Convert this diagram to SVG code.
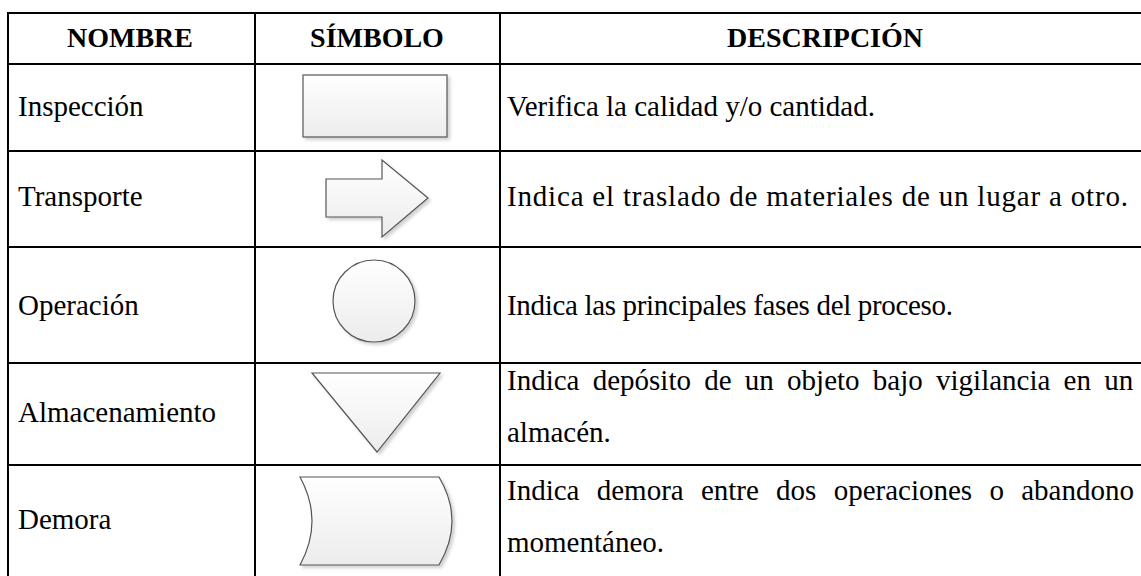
<svg xmlns="http://www.w3.org/2000/svg" width="1141" height="576" viewBox="0 0 1141 576">
<style>
.grid{stroke:#000;stroke-width:2;fill:none}
.hd{font-family:"Liberation Serif","Times New Roman",serif;font-size:28px;font-weight:bold;fill:#000;text-anchor:middle}
.tx{font-family:"Liberation Serif","Times New Roman",serif;font-size:29px;fill:#000}
.sym{fill:url(#g);stroke:#555;stroke-width:1.2;filter:url(#sh)}
</style>
<defs>
<linearGradient id="g" x1="0" y1="0" x2="0" y2="1">
<stop offset="0" stop-color="#ffffff"/>
<stop offset="1" stop-color="#ececec"/>
</linearGradient>
<filter id="sh" x="-10%" y="-10%" width="130%" height="130%">
<feDropShadow dx="2.5" dy="2.5" stdDeviation="1.5" flood-color="#000" flood-opacity="0.18"/>
</filter>
</defs>
<rect width="1141" height="576" fill="#fff"/>
<g id="table">
<line class="grid" x1="7" y1="13" x2="1141" y2="13"/>
<line class="grid" x1="7" y1="64" x2="1141" y2="64"/>
<line class="grid" x1="7" y1="151" x2="1141" y2="151"/>
<line class="grid" x1="7" y1="247" x2="1141" y2="247"/>
<line class="grid" x1="7" y1="363" x2="1141" y2="363"/>
<line class="grid" x1="7" y1="465" x2="1141" y2="465"/>
<line class="grid" x1="8" y1="12" x2="8" y2="576"/>
<line class="grid" x1="255" y1="12" x2="255" y2="576"/>
<line class="grid" x1="500" y1="12" x2="500" y2="576"/>
</g>
<g id="header">
<text class="hd" x="130" y="47">NOMBRE</text>
<text class="hd" x="377" y="47">SÍMBOLO</text>
<text class="hd" x="825" y="47">DESCRIPCIÓN</text>
</g>
<g id="row-inspeccion">
<text class="tx" x="18" y="116">Inspección</text>
<rect class="sym" x="303" y="75" width="144" height="62"/>
<text class="tx" x="507" y="116">Verifica la calidad y/o cantidad.</text>
</g>
<g id="row-transporte">
<text class="tx" x="18" y="206">Transporte</text>
<path class="sym" d="M326,179 L382,179 L382,160 L428,198 L382,237 L382,217 L326,217 Z"/>
<text class="tx" x="507" y="206" textLength="621" lengthAdjust="spacing">Indica el traslado de materiales de un lugar a otro.</text>
</g>
<g id="row-operacion">
<text class="tx" x="18" y="315">Operación</text>
<circle class="sym" cx="374" cy="301" r="41"/>
<text class="tx" x="507" y="315" textLength="446" lengthAdjust="spacing">Indica las principales fases del proceso.</text>
</g>
<g id="row-almacenamiento">
<text class="tx" x="18" y="422">Almacenamiento</text>
<path class="sym" d="M312,373 L440,373 L377,452 Z"/>
<text class="tx" x="507" y="390" word-spacing="6">Indica depósito de un objeto bajo vigilancia en un</text>
<text class="tx" x="507" y="442">almacén.</text>
</g>
<g id="row-demora">
<text class="tx" x="18" y="529">Demora</text>
<path class="sym" d="M300,477 L439,477 Q465,521 439,565 L300,565 Q324,521 300,477 Z"/>
<text class="tx" x="507" y="500" word-spacing="10">Indica demora entre dos operaciones o abandono</text>
<text class="tx" x="507" y="552">momentáneo.</text>
</g>
</svg>
